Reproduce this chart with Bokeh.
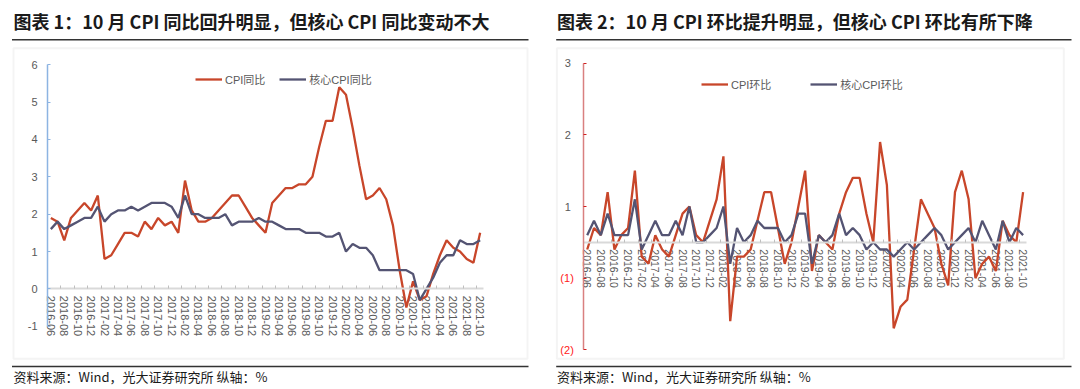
import numpy as np
import pandas as pd
from bokeh.plotting import figure
from bokeh.models import LinearAxis, FixedTicker, Label, BoxAnnotation, Range1d, ColumnDataSource
from bokeh.core.properties import value
from bokeh.layouts import row
from bokeh.embed import file_html
from bokeh.resources import INLINE

# ---------------- data ----------------
months = [p.strftime("%Y-%m") for p in pd.period_range("2016-06", "2021-10", freq="M")]

cpi_yoy = [1.9, 1.8, 1.3, 1.9, 2.1, 2.3, 2.1,
           2.5, 0.8, 0.9, 1.2, 1.5, 1.5, 1.4, 1.8, 1.6, 1.9, 1.7, 1.8,
           1.5, 2.9, 2.1, 1.8, 1.8, 1.9, 2.1, 2.3, 2.5, 2.5, 2.2, 1.9,
           1.7, 1.5, 2.3, 2.5, 2.7, 2.7, 2.8, 2.8, 3.0, 3.8, 4.5, 4.5,
           5.4, 5.2, 4.3, 3.3, 2.4, 2.5, 2.7, 2.4, 1.7, 0.5, -0.5, 0.2,
           -0.3, -0.2, 0.4, 0.9, 1.3, 1.1, 1.0, 0.8, 0.7, 1.5]
core_yoy = [1.6, 1.8, 1.6, 1.7, 1.8, 1.9, 1.9,
            2.2, 1.8, 2.0, 2.1, 2.1, 2.2, 2.1, 2.2, 2.3, 2.3, 2.3, 2.2,
            1.9, 2.5, 2.0, 2.0, 1.9, 1.9, 1.9, 2.0, 1.7, 1.8, 1.8, 1.8,
            1.9, 1.8, 1.8, 1.7, 1.6, 1.6, 1.6, 1.5, 1.5, 1.5, 1.4, 1.4,
            1.5, 1.0, 1.2, 1.1, 1.1, 0.9, 0.5, 0.5, 0.5, 0.5, 0.5, 0.4,
            -0.3, 0.0, 0.3, 0.7, 0.9, 0.9, 1.3, 1.2, 1.2, 1.3]
cpi_mom = [-0.1, 0.2, 0.1, 0.7, -0.1, 0.1, 0.2,
           1.0, -0.2, -0.3, 0.1, -0.1, -0.2, 0.1, 0.4, 0.5, 0.1, 0.0, 0.3,
           0.6, 1.2, -1.1, -0.2, -0.2, -0.1, 0.3, 0.7, 0.7, 0.2, -0.3, 0.0,
           0.5, 1.0, -0.4, 0.1, 0.0, -0.1, 0.4, 0.7, 0.9, 0.9, 0.4, 0.0,
           1.4, 0.8, -1.2, -0.9, -0.8, -0.1, 0.6, 0.4, 0.2, -0.3, -0.6, 0.7,
           1.0, 0.6, -0.5, -0.3, -0.2, -0.4, 0.3, 0.1, 0.0, 0.7]
core_mom = [0.1, 0.3, 0.1, 0.4, 0.1, 0.1, 0.1,
            0.6, -0.1, 0.1, 0.3, 0.1, 0.1, 0.3, 0.1, 0.5, 0.0, 0.0, 0.1,
            0.2, 0.5, -0.3, 0.2, 0.0, 0.1, 0.3, 0.2, 0.2, 0.2, 0.0, 0.1,
            0.4, 0.4, -0.3, 0.1, 0.0, 0.1, 0.4, 0.1, 0.2, 0.1, -0.1, 0.0,
            -0.1, -0.1, -0.2, -0.1, 0.0, -0.1, 0.0, 0.1, 0.2, 0.1, -0.1, 0.0,
            0.1, 0.2, 0.0, 0.3, 0.1, -0.1, 0.3, 0.0, 0.2, 0.1]

title1 = "图表 1：10 月 CPI 同比回升明显，但核心 CPI 同比变动不大"
title2 = "图表 2：10 月 CPI 环比提升明显，但核心 CPI 环比有所下降"
source_note = "资料来源：Wind，光大证券研究所  纵轴：%"
legend1 = ["CPI同比", "核心CPI同比"]
legend2 = ["CPI环比", "核心CPI环比"]
y1_ticks = [-1, 0, 1, 2, 3, 4, 5, 6]
y1_tick_labels = ["-1", "0", "1", "2", "3", "4", "5", "6"]
y2_ticks = [-1.5, -0.5, 0.5, 1.5, 2.5]
y2_tick_labels = ["(2)", "(1)", "1", "2", "3"]

# ---------------- style / layout ----------------
RED = "#C8462A"
NAVY = "#545473"
GREY_TXT = "#595959"
LATIN = "Liberation Sans, Noto Sans CJK SC"
CJK = "Noto Sans CJK SC"
W, H = 540, 389
n = len(months)
x = list(range(n))


def canvas_ranges(px_a, va, px_b, vb, total, invert=False):
    """Range spanning the whole canvas so that value va sits at pixel px_a and vb at px_b."""
    s = (px_b - px_a) / (vb - va)
    if not invert:
        return Range1d(va - px_a / s, va + (total - px_a) / s)
    return Range1d(va + (total - px_a) / s, va - px_a / s)


def make_panel(title, ys, names, xpix, ypix, yticks, ylabels, axis_color, tick_color,
               label_offset, legend_loc, legend_spacing, box, rule_x, xlab_size):
    y_lo, y_hi = min(yticks), max(yticks)
    xr = canvas_ranges(xpix[0], -0.5, xpix[1], n - 0.5, W)
    yr = canvas_ranges(ypix[0], y_hi, ypix[1], y_lo, H, invert=True)
    p = figure(width=W, height=H, x_range=xr, y_range=yr,
               output_backend="svg", toolbar_location=None, x_axis_location=None,
               y_axis_location=None, min_border=0)
    p.grid.visible = False
    p.outline_line_color = None
    p.background_fill_color = "white"
    p.border_fill_color = "white"

    # value axis (line + inward ticks)
    ya = LinearAxis(fixed_location=-0.5, bounds=(y_lo, y_hi),
                    ticker=FixedTicker(ticks=yticks, minor_ticks=[]),
                    major_label_overrides={t: "" for t in yticks})
    ya.axis_line_color = axis_color
    ya.axis_line_width = 1.5
    ya.major_tick_line_color = tick_color
    ya.major_tick_line_width = 1.2
    ya.major_tick_in = 3
    ya.major_tick_out = 0
    ya.major_label_standoff = 0
    ya.major_label_text_font_size = "0px"
    p.add_layout(ya, "left")

    # value labels (negatives in red parentheses, Excel "0;(0)" style)
    neg = [l.startswith("(") for l in ylabels]
    ysrc = ColumnDataSource(dict(x=[-0.5] * len(yticks), y=yticks, text=ylabels,
                                 color=["#FF2020" if ng else GREY_TXT for ng in neg],
                                 off=[label_offset + (3 if ng else 0) for ng in neg]))
    p.text(x="x", y="y", text="text", source=ysrc, x_offset="off", text_align="right",
           text_baseline="middle", text_color="color", text_font=value(LATIN),
           text_font_size="11px")

    # category axis at zero
    xa = LinearAxis(fixed_location=0, bounds=(-0.5, n - 0.5),
                    ticker=FixedTicker(ticks=[], minor_ticks=[i - 0.5 for i in range(0, n + 1, 2)]))
    xa.axis_line_color = "#D9D9D9"
    xa.axis_line_width = 2
    xa.major_tick_in = 0
    xa.major_tick_out = 0
    xa.minor_tick_in = 3
    xa.minor_tick_out = 0
    xa.minor_tick_line_color = "#BFBFBF"
    xa.major_label_standoff = 0
    xa.major_label_text_font_size = "0px"
    p.add_layout(xa, "below")

    xl = list(range(0, n, 2))
    xsrc = ColumnDataSource(dict(x=xl, y=[0] * len(xl), text=[months[i] for i in xl]))
    p.text(x="x", y="y", text="text", source=xsrc, angle=-np.pi / 2, y_offset=7,
           text_align="left", text_baseline="middle", text_color=GREY_TXT,
           text_font=value(LATIN), text_font_size=xlab_size)

    for vals, name, col in zip(ys, names, [RED, NAVY]):
        p.line(x, vals, color=col, line_width=2.3, legend_label=name)

    lg = p.legend[0]
    lg.location = legend_loc
    lg.orientation = "horizontal"
    lg.background_fill_alpha = 0
    lg.border_line_alpha = 0
    lg.padding = 0
    lg.margin = 0
    lg.spacing = legend_spacing
    lg.glyph_width = 27
    lg.glyph_height = 12
    lg.label_height = 12
    lg.label_standoff = 3
    lg.label_text_font = LATIN
    lg.label_text_font_size = "11px"
    lg.label_text_color = GREY_TXT

    bx0, bx1, by0, by1 = box
    p.add_layout(BoxAnnotation(left=bx0, right=bx1, top=by0, bottom=by1,
                               left_units="canvas", right_units="canvas",
                               top_units="canvas", bottom_units="canvas",
                               fill_alpha=0, line_color="#DADADA", line_width=2, level="underlay"))
    rx0, rx1 = rule_x
    for yy in (39.3, 366.0):
        p.add_layout(BoxAnnotation(left=rx0, right=rx1, top=yy - 0.7, bottom=yy + 0.7,
                                   left_units="canvas", right_units="canvas",
                                   top_units="canvas", bottom_units="canvas",
                                   fill_color="#333333", fill_alpha=1, line_alpha=0))
    p.add_layout(Label(x=bx0, y=20, x_units="canvas", y_units="canvas", text=title,
                       text_font=CJK, text_font_size="18px", text_font_style="bold",
                       text_baseline="middle", text_align="left", text_color="#1A1A1A"))
    p.add_layout(Label(x=bx0, y=375.7, x_units="canvas", y_units="canvas", text=source_note,
                       text_font=CJK, text_font_size="13px",
                       text_baseline="middle", text_align="left", text_color="#1A1A1A"))
    return p


p1 = make_panel(title1, [cpi_yoy, core_yoy], legend1, (47, 483), (64.3, 325.7),
                y1_ticks, y1_tick_labels, "#8DB4E2", "#8DB4E2", -10,
                (195, 302), 14, (13, 527, 47.7, 358.3), (11.5, 528), "11px")
p2 = make_panel(title2, [cpi_mom, core_mom], legend2, (43.3, 486), (62.7, 349.3),
                y2_ticks, y2_tick_labels, "#D98080", "#D02020", -13,
                (161, 297), 39, (16.4, 523.3, 47.7, 358.3), (15.7, 531), "10.5px")

layout = row(p1, p2)
open("out.html", "w").write(file_html(layout, INLINE))
